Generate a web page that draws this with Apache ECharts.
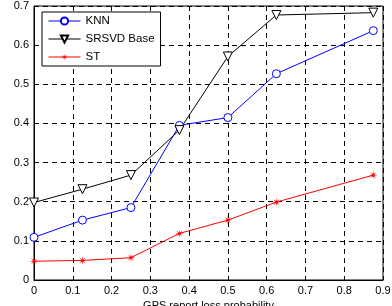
<!DOCTYPE html>
<html>
<head>
<meta charset="utf-8">
<script src="https://cdn.jsdelivr.net/npm/echarts@6/dist/echarts.min.js"></script>
<style>
    html, body {margin: 0; padding: 0; background: #fff;}
    #chart {width: 392px; height: 306px;}
</style>
</head>
<body>
<div id="chart"></div>
<script>
//横轴 GPS report loss probability
var lossProb = [0, 0.125, 0.25, 0.375, 0.5, 0.625, 0.875];
//各方法 NMAE
var knn = [0.109, 0.153, 0.185, 0.395, 0.415, 0.527, 0.637];
var srsvd = [0.198, 0.232, 0.268, 0.383, 0.571, 0.677, 0.683];
var st = [0.048, 0.050, 0.057, 0.119, 0.153, 0.199, 0.268];

//拼成 [x, y]
function toPairs(ys) {
    var res = [];
    for (var i = 0; i < lossProb.length; i++) {
        res.push([lossProb[i], ys[i]]);
    }
    return res;
}

//星号形状
function starPath() {
    var pts = [];
    var n = 8;
    for (var i = 0; i < n * 2; i++) {
        var r = (i % 2 == 0) ? 10 : 2.5;
        var a = Math.PI * i / n - Math.PI / 2;
        pts.push((10 + r * Math.cos(a)).toFixed(2) + ',' + (10 + r * Math.sin(a)).toFixed(2));
    }
    return 'path://M' + pts.join('L') + 'Z';
}

function tickFmt(v) {
    return v == 0 ? '0' : String(Math.round(v * 10) / 10);
}

var font = 'Liberation Sans, Arial, sans-serif';
var chart = echarts.init(document.getElementById('chart'));
var option = {
    animation: false,
    grid: {
        left: 34, right: 9, top: 6, bottom: 26,
        containLabel: false,
        outerBoundsMode: 'none',
        show: true, borderColor: '#000', borderWidth: 1
    },
    legend: {
        orient: 'vertical',
        left: 42,
        top: 12,
        backgroundColor: '#fff',
        borderColor: '#000',
        borderWidth: 1,
        borderRadius: 0,
        padding: [3, 6, 3, 6],
        itemWidth: 32,
        itemHeight: 9,
        itemGap: 6,
        lineStyle: {width: 1},
        textStyle: {fontFamily: font, fontSize: 11.5, color: '#000'},
        data: ['KNN', 'SRSVD Base', 'ST']
    },
    xAxis: {
        type: 'value',
        min: 0,
        max: 0.9,
        interval: 0.1,
        name: 'GPS report loss probability',
        nameLocation: 'middle',
        nameGap: 16,
        nameTextStyle: {fontFamily: font, fontSize: 11, color: '#000'},
        axisLine: {lineStyle: {color: '#000'}},
        axisTick: {show: false},
        axisLabel: {fontFamily: font, fontSize: 11, color: '#000', margin: 5, formatter: tickFmt},
        splitLine: {show: true, lineStyle: {color: '#000', type: [5, 4], width: 1}}
    },
    yAxis: {
        type: 'value',
        min: 0,
        max: 0.7,
        interval: 0.1,
        name: 'NMAE',
        nameLocation: 'middle',
        nameGap: 25,
        nameTextStyle: {fontFamily: font, fontSize: 11, color: '#000'},
        axisLine: {show: true, lineStyle: {color: '#000'}},
        axisTick: {show: false},
        axisLabel: {fontFamily: font, fontSize: 11, color: '#000', margin: 5, formatter: tickFmt},
        splitLine: {show: true, lineStyle: {color: '#000', type: [5, 4], width: 1}}
    },
    series: [
        {
            name: 'KNN',
            type: 'line',
            data: toPairs(knn),
            symbol: 'circle',
            symbolSize: 8,
            lineStyle: {color: '#0000ff', width: 1},
            itemStyle: {color: '#fff', borderColor: '#0000ff', borderWidth: 1}
        },
        {
            name: 'SRSVD Base',
            type: 'line',
            data: toPairs(srsvd),
            symbol: 'triangle',
            symbolRotate: 180,
            symbolSize: 9,
            lineStyle: {color: '#000', width: 1},
            itemStyle: {color: '#fff', borderColor: '#000', borderWidth: 1}
        },
        {
            name: 'ST',
            type: 'line',
            data: toPairs(st),
            symbol: starPath(),
            symbolSize: 9,
            lineStyle: {color: '#ff0000', width: 1},
            itemStyle: {color: '#ff0000', borderColor: '#ff0000', borderWidth: 0}
        }
    ]
};
chart.setOption(option);
</script>
</body>
</html>
